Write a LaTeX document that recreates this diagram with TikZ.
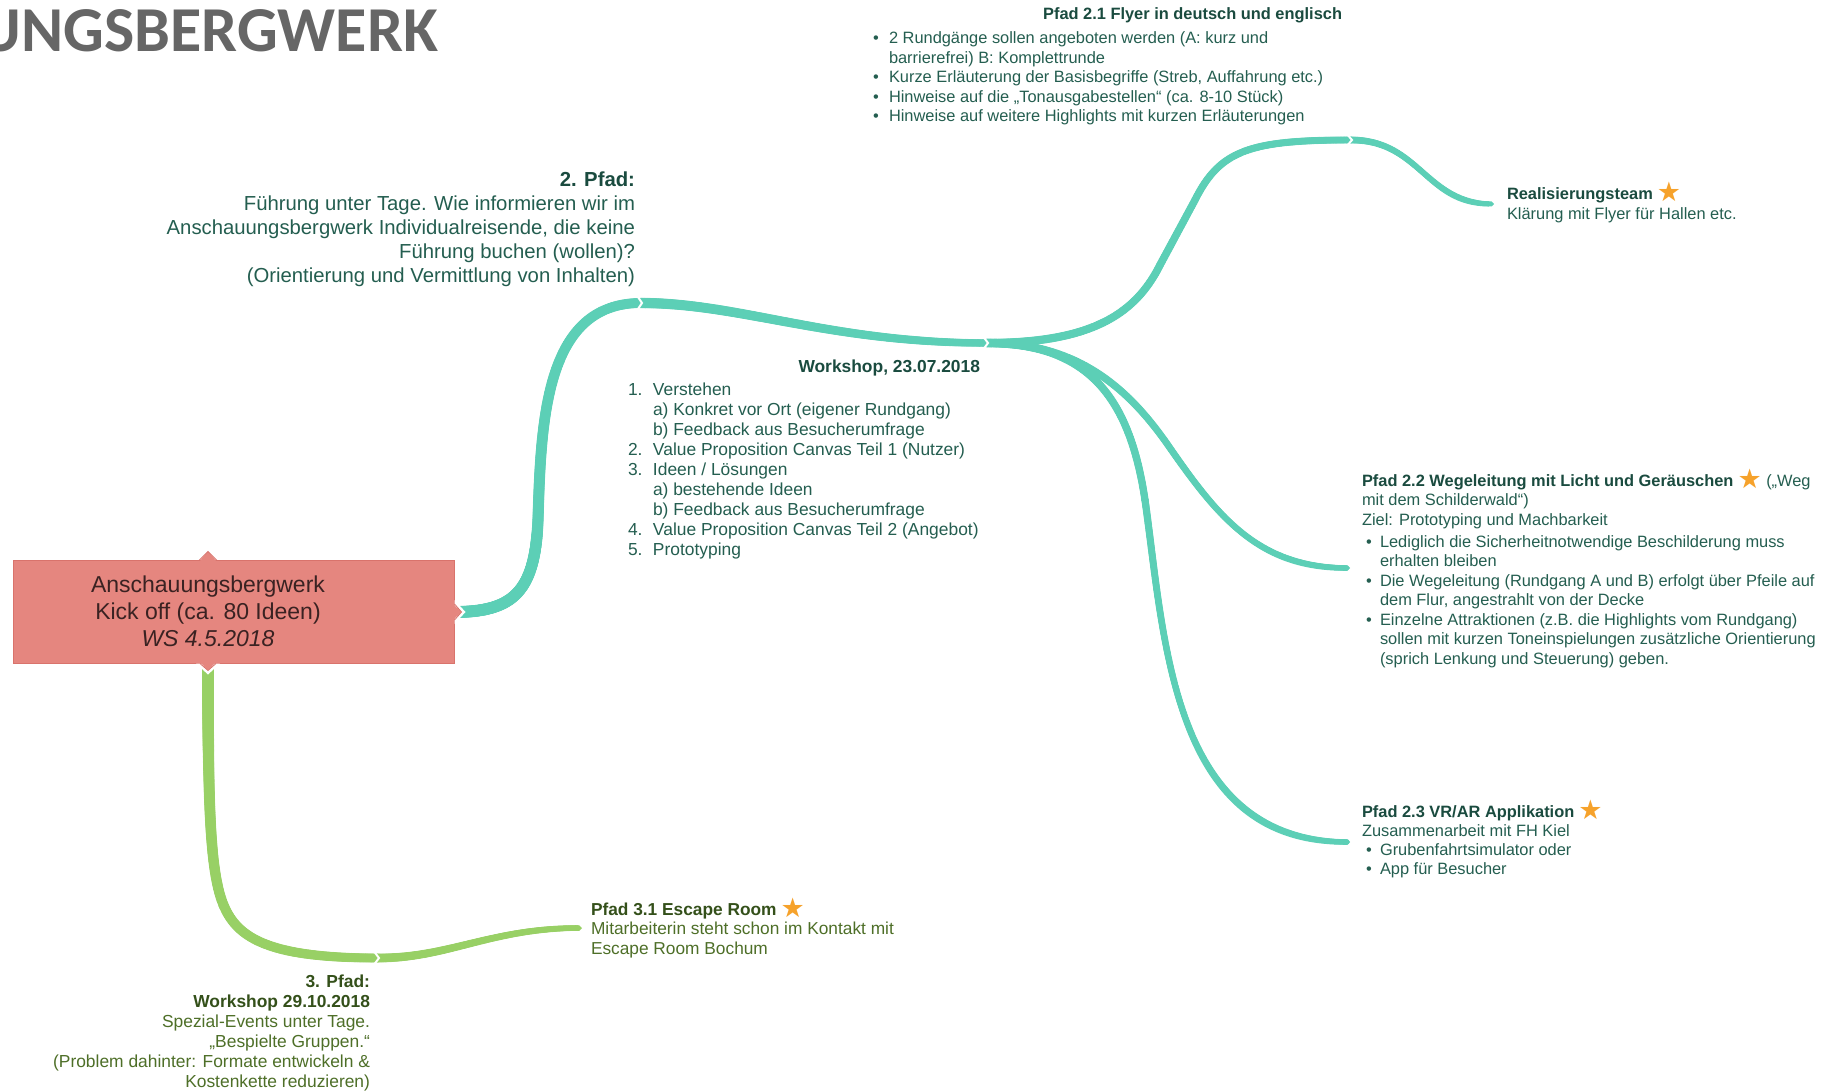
\documentclass[tikz,border=0pt]{standalone}
\usepackage{fontspec}
\setmainfont{Liberation Sans}
\newfontfamily\titlefont{Carlito}
\newfontfamily\symfont{DejaVu Sans}
\usetikzlibrary{arrows.meta,decorations.markings,backgrounds}
\definecolor{tealline}{HTML}{5CCFB6}
\definecolor{greenline}{HTML}{98D065}
\definecolor{tealtxt}{HTML}{245E50}
\definecolor{tealbold}{HTML}{1A4B3F}
\definecolor{greentxt}{HTML}{4E6F28}
\definecolor{greenbold}{HTML}{34501A}
\definecolor{rootfill}{HTML}{E5867F}
\definecolor{rootborder}{HTML}{D9736C}
\definecolor{roottxt}{HTML}{3A2222}
\definecolor{starorange}{HTML}{F6A22B}
\definecolor{titlegrey}{HTML}{666666}
\newlength\bulpre
\newlength\bulind
\newcommand\bitem[1]{\par\hangindent=\bulind\hangafter=1\noindent\makebox[\bulind][l]{\hspace*{\bulpre}\textbullet}#1}
\newcommand\nitem[2]{\par\hangindent=25pt\hangafter=1\noindent\makebox[25pt][l]{#1}#2}
\newcommand\staricon{\hspace{4pt}\raisebox{-2pt}[0pt][0pt]{\symfont\fontsize{27}{27}\selectfont\color{starorange}★}}
\tikzset{taper/.style n args={4}{postaction={decorate,decoration={markings,
  mark=between positions 0 and #4 step 1.2pt with {%
    \pgfmathsetmacro\rr{(#2+(#3-#2)*\pgfkeysvalueof{/pgf/decoration/mark info/distance from start}/\pgfdecoratedpathlength)/2}%
    \fill[#1] (0,0) circle (\rr pt);}}}}}
\begin{document}
\begin{tikzpicture}[x=1pt,y=-1pt,
  every node/.style={inner sep=0pt,outer sep=0pt},
  tipend/.style={draw=#1,line cap=butt,-{Triangle Cap}},
  chev/.style={draw=white,line width=2pt,line join=miter}]
\useasboundingbox (0,0) rectangle (1826,1091);

% title
\node[anchor=base east,font=\titlefont\fontsize{64}{64}\selectfont\bfseries,text=titlegrey] (title) at (438,52) {UNGSBERGWERK};

% root
\node[rectangle,fill=rootfill,draw=rootborder,line width=0.8pt,minimum width=441pt,minimum height=103pt] (root) at (234,612) {};
\node[font=\fontsize{23}{27}\selectfont,align=center,text=roottxt] (roottext) at (208,611) {Anschauungsbergwerk\\Kick off (ca. 80 Ideen)\\\textit{WS 4.5.2018}};
\coordinate (rootbot) at (roottext |- root.south);
\coordinate (roottop) at (roottext |- root.north);

% junctions
\coordinate (p2) at (641,303);
\coordinate (ws) at (987,343);
\coordinate (p21) at (1351,140);
\coordinate (realis) at (1494,204);
\coordinate (p22) at (1350,568);
\coordinate (p23) at (1350,842);
\coordinate (p3) at (378,958);
\coordinate (p31) at (582,928);

\begin{pgfonlayer}{background}
\fill[white] (0,0) rectangle (1826,1091);
% teal connectors (tapered)
\path[taper={tealline}{12}{10}{1}] (root.east) .. controls (515,612) and (535,590) .. (538,520) .. controls (541,420) and (545,303) .. (p2);
\path[taper={tealline}{10.5}{7.5}{1}] (p2) .. controls (740,303) and (830,343) .. (ws);
\path[taper={tealline}{8.5}{7}{1}] (ws) .. controls (1090,343) and (1135,315) .. (1160,265) -- (1195,200) .. controls (1220,150) and (1250,140) .. (p21);
\draw[tipend=tealline,line width=5pt] (p21) .. controls (1420,140) and (1425,204) .. (realis);
\path[taper={tealline}{7}{5}{-5pt}] (p21) .. controls (1420,140) and (1425,204) .. (realis);
\draw[tipend=tealline,line width=5.5pt] (ws) .. controls (1080,343) and (1130,390) .. (1170,448) .. controls (1220,520) and (1260,568) .. (p22);
\path[taper={tealline}{8.5}{5.5}{-5pt}] (ws) .. controls (1080,343) and (1130,390) .. (1170,448) .. controls (1220,520) and (1260,568) .. (p22);
\draw[tipend=tealline,line width=5.5pt] (ws) .. controls (1090,343) and (1130,400) .. (1145,500) .. controls (1165,640) and (1170,842) .. (p23);
\path[taper={tealline}{8.5}{5.5}{-5pt}] (ws) .. controls (1090,343) and (1130,400) .. (1145,500) .. controls (1165,640) and (1170,842) .. (p23);
% green connectors (tapered)
\path[taper={greenline}{12}{9}{1}] (rootbot) .. controls (208,800) and (210,860) .. (220,895) .. controls (232,935) and (260,958) .. (p3);
\draw[tipend=greenline,line width=5.5pt] (p3) .. controls (450,958) and (490,928) .. (p31);
\path[taper={greenline}{9}{5.5}{-5pt}] (p3) .. controls (450,958) and (490,928) .. (p31);
\end{pgfonlayer}

% chevrons
\draw[chev] (p2) ++(-5,-9) -- ++(6,9) -- ++(-6,9);
\draw[chev] (ws) ++(-5,-8) -- ++(6,8) -- ++(-6,8);
\draw[chev] (p21) ++(-5,-7) -- ++(6,7) -- ++(-6,7);
\draw[chev] (p3) ++(-5,-8) -- ++(6,8) -- ++(-6,8);

% bumps on root
\fill[white] ([yshift=12pt]root.east) -- ([xshift=11pt]root.east) -- ([yshift=-12pt]root.east) -- cycle;
\fill[rootfill] ([xshift=-1.5pt,yshift=8pt]root.east) -- ([xshift=7pt]root.east) -- ([xshift=-1.5pt,yshift=-8pt]root.east) -- cycle;
\draw[rootborder,line width=0.8pt] ([yshift=8pt]root.east) -- ([xshift=7pt]root.east) -- ([yshift=-8pt]root.east);
\fill[white] ([xshift=-12pt]rootbot) -- ([yshift=-11pt]rootbot) -- ([xshift=12pt]rootbot) -- cycle;
\fill[rootfill] ([xshift=-8pt,yshift=1.5pt]rootbot) -- ([yshift=-7pt]rootbot) -- ([xshift=8pt,yshift=1.5pt]rootbot) -- cycle;
\draw[rootborder,line width=0.8pt] ([xshift=-8pt]rootbot) -- ([yshift=-7pt]rootbot) -- ([xshift=8pt]rootbot);
\fill[rootfill] ([xshift=-9pt,yshift=-1.5pt]roottop) -- ([yshift=9pt]roottop) -- ([xshift=9pt,yshift=-1.5pt]roottop) -- cycle;
\draw[rootborder,line width=0.8pt] ([xshift=-9pt]roottop) -- ([yshift=9pt]roottop) -- ([xshift=9pt]roottop);

% texts
\node[anchor=base east,text=tealtxt] (pfad2) at (635,187) {\parbox[t]{480pt}{\raggedleft\fontsize{20.3}{24}\selectfont\leavevmode{\color{tealbold}\bfseries 2. Pfad:}\\Führung unter Tage. Wie informieren wir im\\Anschauungsbergwerk Individualreisende, die keine\\Führung buchen (wollen)?\\(Orientierung und Vermittlung von Inhalten)}};

\node[anchor=base west,text=tealtxt] (workshop) at (628,372) {\parbox[t]{360pt}{\fontsize{17.4}{20.1}\selectfont\raggedright\leavevmode\makebox[352pt][r]{\color{tealbold}\bfseries Workshop, 23.07.2018}\par\vspace{3pt}%
\nitem{1.}{Verstehen\newline a) Konkret vor Ort (eigener Rundgang)\newline b) Feedback aus Besucherumfrage}%
\nitem{2.}{Value Proposition Canvas Teil 1 (Nutzer)}%
\nitem{3.}{Ideen / Lösungen\newline a) bestehende Ideen\newline b) Feedback aus Besucherumfrage}%
\nitem{4.}{Value Proposition Canvas Teil 2 (Angebot)}%
\nitem{5.}{Prototyping}}};

\node[anchor=base west,text=tealtxt] (flyer) at (873,20) {\parbox[t]{475pt}{\fontsize{16.4}{19.5}\selectfont\raggedright\leavevmode\makebox[469pt][r]{\color{tealbold}\bfseries Pfad 2.1 Flyer in deutsch und englisch}\par\vspace{4.5pt}\setlength\bulpre{0pt}\setlength\bulind{16pt}%
\bitem{2 Rundgänge sollen angeboten werden (A: kurz und\newline barrierefrei) B: Komplettrunde}%
\bitem{Kurze Erläuterung der Basisbegriffe (Streb, Auffahrung etc.)}%
\bitem{Hinweise auf die „Tonausgabestellen“ (ca. 8-10 Stück)}%
\bitem{Hinweise auf weitere Highlights mit kurzen Erläuterungen}}};

\node[anchor=base west,text=tealtxt] (realtext) at (1507,200) {\parbox[t]{300pt}{\fontsize{16.4}{19.5}\selectfont\raggedright\leavevmode{\color{tealbold}\bfseries Realisierungsteam}\staricon\\Klärung mit Flyer für Hallen etc.}};

\node[anchor=base west,text=tealtxt] (wege) at (1362,486) {\parbox[t]{462pt}{\fontsize{16.4}{19.5}\selectfont\raggedright\leavevmode{\color{tealbold}\bfseries Pfad 2.2 Wegeleitung mit Licht und Geräuschen}\staricon\ („Weg\\mit dem Schilderwald“)\\Ziel: Prototyping und Machbarkeit\par\vspace{2.5pt}\setlength\bulpre{4pt}\setlength\bulind{18pt}%
\bitem{Lediglich die Sicherheitnotwendige Beschilderung muss\newline erhalten bleiben}%
\bitem{Die Wegeleitung (Rundgang A und B) erfolgt über Pfeile auf\newline dem Flur, angestrahlt von der Decke}%
\bitem{Einzelne Attraktionen (z.B. die Highlights vom Rundgang)\newline sollen mit kurzen Toneinspielungen zusätzliche Orientierung\newline (sprich Lenkung und Steuerung) geben.}}};

\node[anchor=base west,text=tealtxt] (vrar) at (1362,817) {\parbox[t]{300pt}{\fontsize{16.4}{19.2}\selectfont\raggedright\leavevmode{\color{tealbold}\bfseries Pfad 2.3 VR/AR Applikation}\staricon\\Zusammenarbeit mit FH Kiel\par\setlength\bulpre{4pt}\setlength\bulind{18pt}%
\bitem{Grubenfahrtsimulator oder}%
\bitem{App für Besucher}}};

\node[anchor=base west,text=greentxt] (escape) at (591,915) {\parbox[t]{330pt}{\fontsize{17.3}{19.5}\selectfont\raggedright\leavevmode{\color{greenbold}\bfseries Pfad 3.1 Escape Room}\staricon\\Mitarbeiterin steht schon im Kontakt mit\\Escape Room Bochum}};

\node[anchor=base east,text=greentxt] (pfad3) at (370,987) {\parbox[t]{360pt}{\raggedleft\fontsize{17.4}{20}\selectfont\leavevmode{\color{greenbold}\bfseries 3. Pfad:\\Workshop 29.10.2018}\\Spezial-Events unter Tage.\\„Bespielte Gruppen.“\\(Problem dahinter: Formate entwickeln \&\\Kostenkette reduzieren)}};
\end{tikzpicture}
\end{document}
